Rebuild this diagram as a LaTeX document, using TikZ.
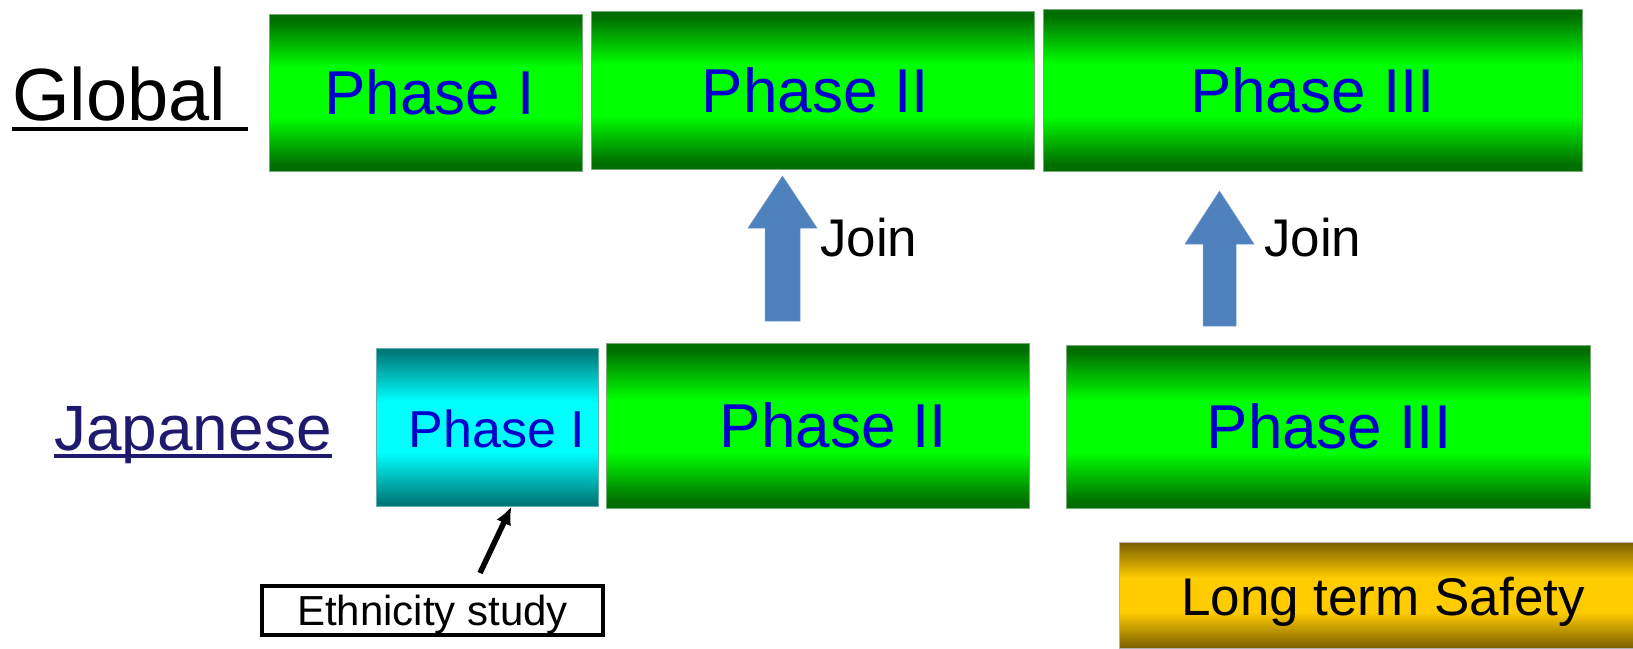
\documentclass[tikz,border=0pt]{standalone}
\usepackage{fontspec}
\setmainfont{Liberation Sans}
\usetikzlibrary{arrows.meta}
\definecolor{darkgreen}{RGB}{0,110,0}
\definecolor{brightgreen}{RGB}{0,255,0}
\definecolor{darkteal}{RGB}{0,120,120}
\definecolor{brightcyan}{RGB}{0,255,255}
\definecolor{darkgold}{RGB}{122,94,0}
\definecolor{brightgold}{RGB}{255,204,0}
\definecolor{phaseblue}{RGB}{0,0,204}
\definecolor{japnavy}{RGB}{31,26,110}
\definecolor{joinblue}{RGB}{79,129,189}
\definecolor{edgegreen}{RGB}{120,170,120}
% band shadings: dark at the edges, a bright plateau through the middle
\pgfdeclareverticalshading{greenband}{100bp}{color(0bp)=(darkgreen); color(27bp)=(darkgreen);
  color(42bp)=(brightgreen); color(58bp)=(brightgreen); color(73bp)=(darkgreen); color(100bp)=(darkgreen)}
\pgfdeclareverticalshading{cyanband}{100bp}{color(0bp)=(darkteal); color(26bp)=(darkteal);
  color(42bp)=(brightcyan); color(58bp)=(brightcyan); color(74bp)=(darkteal); color(100bp)=(darkteal)}
\pgfdeclareverticalshading{goldband}{100bp}{color(0bp)=(darkgold); color(25bp)=(darkgold);
  color(42bp)=(brightgold); color(58bp)=(brightgold); color(75bp)=(darkgold); color(100bp)=(darkgold)}
\newcommand{\fsz}[1]{\fontsize{#1}{#1}\selectfont}
\newcommand{\nudge}[3]{\hspace*{#1}\raisebox{#2}[\height][\depth]{#3}}
\tikzset{
  phasebox/.style={draw=edgegreen, line width=1pt, inner sep=0pt,
    shade, shading=greenband, text=phaseblue, font=\fsz{62}},
  cyanbox/.style={draw=darkteal!60, line width=1pt, inner sep=0pt,
    shade, shading=cyanband, text=phaseblue, font=\fsz{52}},
  goldbox/.style={draw=gray!60, line width=1pt, inner sep=0pt,
    shade, shading=goldband, text=black, font=\fsz{53}},
  notebox/.style={draw=black, line width=4.5pt, fill=white, inner sep=0pt,
    font=\fsz{42}},
  rowlabel/.style={inner sep=0pt, anchor=base west},
  joinlabel/.style={inner sep=0pt, anchor=base west, font=\fsz{53}},
  joinarrow/.style={fill=joinblue, draw=joinblue!80, line width=0.5pt},
}
\begin{document}
\begin{tikzpicture}[x=1pt,y=-1pt]
\useasboundingbox (0,0) rectangle (1633,648);

% global programme
\node[phasebox, minimum width=313, minimum height=157] (g1) at (425.5,92.5) {\nudge{8pt}{0pt}{Phase I}};
\node[phasebox, minimum width=443, minimum height=158] (g2) at (812.5,90) {\nudge{6pt}{0pt}{Phase II}};
\node[phasebox, minimum width=539, minimum height=162] (g3) at (1312.5,90) {Phase III};

% japanese programme
\node[cyanbox, minimum width=222, minimum height=158] (j1) at (487,427) {\nudge{20pt}{-2pt}{Phase I}};
\node[phasebox, minimum width=423, minimum height=165] (j2) at (817.5,425.5) {\nudge{32pt}{0pt}{Phase II}};
\node[phasebox, minimum width=524, minimum height=163] (j3) at (1328,426.5) {\nudge{2pt}{0pt}{Phase III}};

% row labels
\node[rowlabel, font=\fsz{74}, text=black] (glob) at (12,120) {Global};
\draw[line width=4pt, black] ([yshift=-9pt]glob.base west) -- ++(236,0);
\node[rowlabel, font=\fsz{64}, text=japnavy] (jap) at (54,450) {Japanese};
\draw[line width=3.5pt, japnavy] ([yshift=-6pt]jap.base west) -- ([yshift=-6pt]jap.base east);

% join arrows
\fill[joinarrow] (765,321) -- (800,321) -- (800,228) -- (817,228) -- (782.5,176)
  -- (748,228) -- (765,228) -- cycle;
\node[joinlabel] (join1) at (820,256) {Join};
\fill[joinarrow] (1203,326) -- (1236,326) -- (1236,244) -- (1254,244) -- (1219.5,191)
  -- (1185,244) -- (1203,244) -- cycle;
\node[joinlabel] (join2) at (1264,256) {Join};

% ethnicity study note
\node[notebox, minimum width=341, minimum height=49] (eth) at (432.5,610.5) {\nudge{0pt}{-4pt}{Ethnicity study}};
\coordinate (ethtail) at (480,573);
\coordinate (ethhead) at (511.5,506.5);
\draw[line width=5.5pt, -{Latex[length=18pt,width=16pt]}] (ethtail) -- (ethhead);

% long term safety
\node[goldbox, minimum width=515, minimum height=106] (lts) at (1376.5,595) {\nudge{13pt}{-7pt}{Long term Safety}};
\end{tikzpicture}
\end{document}
